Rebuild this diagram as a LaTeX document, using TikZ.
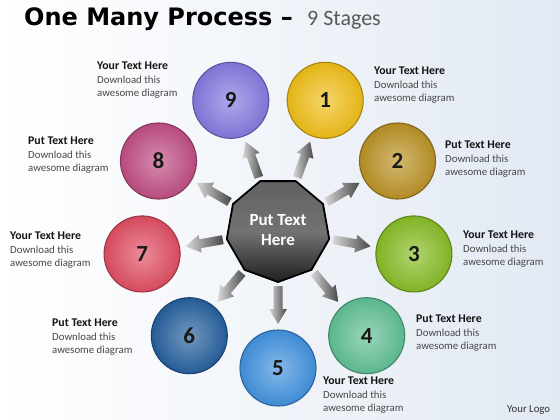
\documentclass[tikz,border=0pt]{standalone}
\usepackage{fontspec}
\setmainfont{Carlito}
\newfontfamily\titlefont{DejaVu Sans}
\usetikzlibrary{calc,shapes.geometric}
\definecolor{bgblue}{RGB}{226,233,243}
\definecolor{cA}{RGB}{240,190,24}
\definecolor{cB}{RGB}{186,146,38}
\definecolor{cC}{RGB}{136,188,38}
\definecolor{cD}{RGB}{96,192,148}
\definecolor{cE}{RGB}{66,146,222}
\definecolor{cF}{RGB}{38,96,158}
\definecolor{cG}{RGB}{224,78,98}
\definecolor{cH}{RGB}{192,78,132}
\definecolor{cI}{RGB}{132,122,224}
\definecolor{subgray}{RGB}{89,89,89}
\newcommand{\hd}[1]{{\fontsize{11.8}{13.2}\selectfont\bfseries\color{black!92}#1}}
\begin{document}
\begin{tikzpicture}[x=1pt,y=1pt,
  ball/.style={circle, minimum size=76pt, inner sep=0pt, draw=#1!70!black, line width=1.1pt,
    inner color=#1!65!white, outer color=#1!95!black,
    font=\bfseries\fontsize{23}{23}\selectfont, text=black!90},
  hub/.style={regular polygon, regular polygon sides=9, shape border rotate=180,
    minimum size=104pt, inner sep=0pt, draw=black, line width=1.8pt,
    top color=black!62, bottom color=black!88, middle color=black!55,
    font=\bfseries\fontsize{17}{20}\selectfont, text=white, align=center},
  arrowshade/.style={left color=black!15, right color=black!72},
  lbl/.style={anchor=north west, inner sep=0pt, align=left,
    font=\fontsize{10.8}{13.4}\selectfont, text=black!72}]
\useasboundingbox (0,0) rectangle (560,-420);
\shade[left color=white, right color=bgblue] (0,0) rectangle (560,-420);
\coordinate (C) at (278,-230);

% title
\node[anchor=base west, inner sep=0pt, font=\titlefont\bfseries\fontsize{24}{24}\selectfont] (title) at (24,-26) {One Many Process –};
\node[anchor=base west, inner sep=0pt, font=\fontsize{22}{22}\selectfont, text=subgray] (sub) at ($(title.base east)+(14,0)$) {9 Stages};

% arrows
\foreach \a in {-90,-50,-10,30,70,110,150,190,230} {
  \shade[arrowshade, shift={(C)}, rotate=\a]
    (56,-4.5) -- (79,-4.5) -- (79,-9) -- (94,0) -- (79,9) -- (79,4.5) -- (56,4.5) -- cycle;
}

% hub
\node[hub] (hub) at (C) {Put Text\\Here};

% circles
\node[ball=cA] (n1) at ($(C)+(70:138)$) {1};
\node[ball=cB] (n2) at ($(C)+(30:138)$) {2};
\node[ball=cC] (n3) at ($(C)+(-10:138)$) {3};
\node[ball=cD] (n4) at ($(C)+(-50:138)$) {4};
\node[ball=cE] (n5) at ($(C)+(-90:138)$) {5};
\node[ball=cF] (n6) at ($(C)+(230:138)$) {6};
\node[ball=cG] (n7) at ($(C)+(190:138)$) {7};
\node[ball=cH] (n8) at ($(C)+(150:138)$) {8};
\node[ball=cI] (n9) at ($(C)+(110:138)$) {9};

% labels
\node[lbl] (t9) at (97,-62) {\hd{Your Text Here}\\Download this\\awesome diagram};
\node[lbl] (t1) at (374,-67) {\hd{Your Text Here}\\Download this\\awesome diagram};
\node[lbl] (t2) at (445,-141) {\hd{Put Text Here}\\Download this\\awesome diagram};
\node[lbl] (t3) at (463,-231) {\hd{Your Text Here}\\Download this\\awesome diagram};
\node[lbl] (t4) at (416,-315) {\hd{Put Text Here}\\Download this\\awesome diagram};
\node[lbl] (t5) at (323,-377) {\hd{Your Text Here}\\Download this\\awesome diagram};
\node[lbl] (t6) at (52,-319) {\hd{Put Text Here}\\Download this\\awesome diagram};
\node[lbl] (t7) at (10,-232) {\hd{Your Text Here}\\Download this\\awesome diagram};
\node[lbl] (t8) at (28,-137) {\hd{Put Text Here}\\Download this\\awesome diagram};
\node[lbl, text=black!80] (logo) at (507,-405) {Your Logo};
\end{tikzpicture}
\end{document}
